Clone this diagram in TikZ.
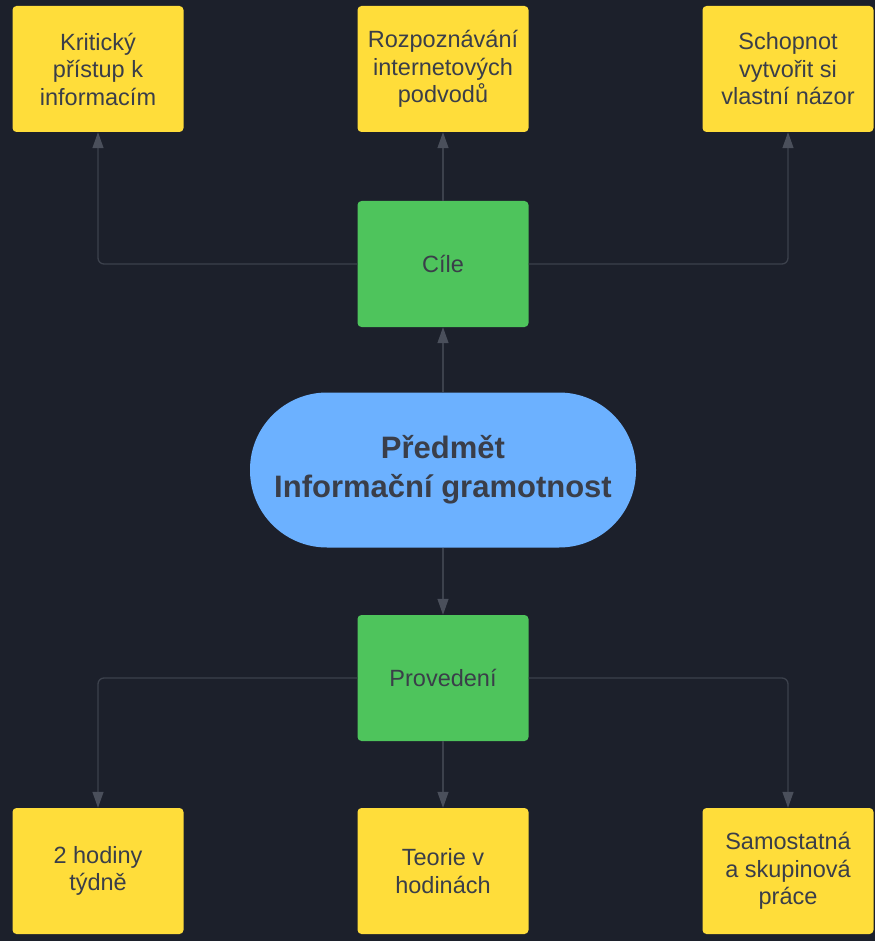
\documentclass[tikz,border=0pt]{standalone}
\usepackage{fontspec}
\setmainfont{Liberation Sans}
\usetikzlibrary{positioning,arrows.meta}
\definecolor{bgdark}{HTML}{1C202B}
\definecolor{boxyellow}{HTML}{FFDD3A}
\definecolor{boxgreen}{HTML}{4EC45C}
\definecolor{boxblue}{HTML}{6CB1FF}
\definecolor{ink}{HTML}{3A3E49}
\definecolor{wire}{HTML}{3C414C}
\definecolor{tipgrey}{HTML}{4A4F5B}

\begin{document}
\begin{tikzpicture}[x=1pt,y=-1pt,
    card/.style={rounded corners=4pt, minimum width=171pt, minimum height=126pt,
      inner sep=0pt, align=center, text=ink, font=\fontsize{23.5}{27.5}\selectfont},
    goal/.style={card, fill=boxyellow},
    hub/.style={card, fill=boxgreen},
    topic/.style={fill=boxblue, rounded corners=77pt, minimum width=386pt,
      minimum height=155pt, inner sep=0pt, align=center, text=ink,
      font=\bfseries\fontsize{31}{39}\selectfont},
    conn/.style={draw=wire, line width=1.3pt, rounded corners=6pt,
      -{Triangle[length=16pt,width=11pt,color=tipgrey]}}]
  \fill[bgdark] (0,0) rectangle (875,941);

  % cile
  \node[goal] (krit) at (98,69) {Kritický\\přístup k\\informacím};
  \node[goal] (podv) at (443,69) {Rozpoznávání\\internetových\\podvodů};
  \node[goal] (nazor) at (788,69) {Schopnot\\vytvořit si\\vlastní názor};
  \node[hub] (cile) at (443,264) {Cíle};

  % predmet
  \node[topic] (pred) at (443,470) {Předmět\\Informační gramotnost};

  % provedeni
  \node[hub] (prov) at (443,678) {Provedení};
  \node[goal] (hod) at (98,871) {2 hodiny\\týdně};
  \node[goal] (teor) at (443,871) {Teorie v\\hodinách};
  \node[goal] (prace) at (788,871) {Samostatná\\a skupinová\\práce};

  \draw[conn] (cile.west) -| (krit.south);
  \draw[conn] (cile.north) -- (podv.south);
  \draw[conn] (cile.east) -| (nazor.south);
  \draw[conn] (pred.north) -- (cile.south);
  \draw[conn] (pred.south) -- (prov.north);
  \draw[conn] (prov.west) -| (hod.north);
  \draw[conn] (prov.south) -- (teor.north);
  \draw[conn] (prov.east) -| (prace.north);
\end{tikzpicture}
\end{document}
